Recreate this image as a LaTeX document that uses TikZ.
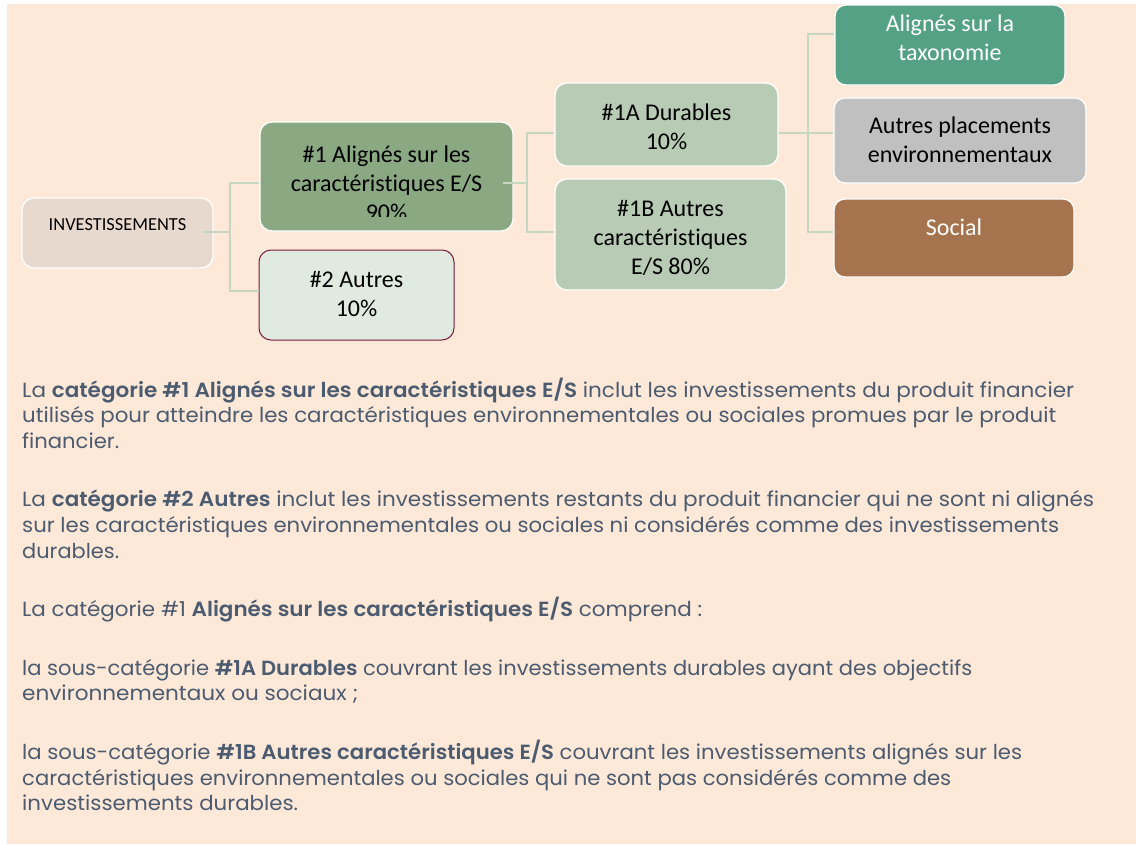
\documentclass[tikz,border=0pt]{standalone}
\usepackage{fontspec}
\usepackage{graphicx}
\setmainfont{Poppins}[BoldFont={Poppins SemiBold}]
\newfontfamily\calib{Carlito}[Ligatures=NoCommon]
\definecolor{peach}{HTML}{FEE8D8}
\definecolor{invc}{HTML}{E7D9CD}
\definecolor{onec}{HTML}{8AA882}
\definecolor{twoc}{HTML}{E1EAE1}
\definecolor{twob}{HTML}{7A1B3B}
\definecolor{subc}{HTML}{B8CBB4}
\definecolor{taxc}{HTML}{54A185}
\definecolor{apc}{HTML}{C0C0C0}
\definecolor{socc}{HTML}{A5734E}
\definecolor{connc}{HTML}{C6D7C1}
\definecolor{txt}{HTML}{4B5B70}
\tikzset{
  box/.style={draw=white, line width=1.3pt, rounded corners=12pt, inner sep=0pt},
  conn/.style={draw=connc, line width=1.3pt},
  lbl/.style={anchor=base, inner sep=0pt, font=\calib\fontsize{24}{29}\selectfont},
  body/.style={anchor=base west, inner sep=0pt, text=txt, font=\fontsize{20.5}{25}\selectfont}
}
\begin{document}
\begin{tikzpicture}[x=1pt,y=-1pt]
\useasboundingbox (0,0) rectangle (1136,844);
\fill[white] (0,0) rectangle (1136,844);
\fill[peach] (7,4) rectangle (1136,844);

% boxes
\node[box, fill=invc, minimum width=191pt, minimum height=70pt] (inv) at (117.5,233) {};
\node[box, fill=onec, minimum width=253pt, minimum height=109pt] (n1) at (386.5,176.5) {};
\node[box, fill=twoc, draw=twob, line width=1pt, minimum width=195pt, minimum height=90pt] (n2) at (356.5,295) {};
\node[box, fill=subc, minimum width=223pt, minimum height=83pt] (a1) at (666.5,124.5) {};
\node[box, fill=subc, minimum width=231pt, minimum height=111pt] (b1) at (670.5,234.5) {};
\node[box, fill=taxc, rounded corners=11pt, minimum width=230pt, minimum height=80pt] (tax) at (950,45) {};
\node[box, fill=apc, rounded corners=11pt, minimum width=252pt, minimum height=85pt] (ap) at (960,140.5) {};
\node[box, fill=socc, rounded corners=11pt, minimum width=240pt, minimum height=78pt] (soc) at (954,238) {};

% junctions
\coordinate (j1) at (230,232);
\coordinate (j2) at (527,183);
\coordinate (j3) at (808,133);

% connectors
\draw[conn, shorten <=-11pt] (inv.east |- j1) -- (j1);
\draw[conn] (n1.west |- j2) -| (j1) |- (n2.west |- 0,291);
\draw[conn, shorten <=-11pt] (n1.east |- j2) -- (j2);
\draw[conn] (a1.west |- j3) -| (j2) |- (b1.west |- 0,232);
\draw[conn] (a1.east |- j3) -- (j3) -- (ap.west |- j3);
\draw[conn] (tax.west |- 0,34) -| (j3) |- (soc.west |- 0,232);

% box texts
\node[lbl, font=\calib\fontsize{18.4}{22}\selectfont] (tinv) at (117.5,230) {INVESTISSEMENTS};
\node[lbl] (t1a) at (386.5,162) {\#1 Alignés sur les};
\node[lbl] (t1b) at (386.5,191) {caractéristiques E/S};
\begin{scope}
\clip (260,122) rectangle (513,216.7);
\node[lbl] (t1c) at (386.5,220) {90\%};
\end{scope}
\node[lbl] (t2a) at (356.5,287) {\#2 Autres};
\node[lbl] (t2b) at (356.5,316) {10\%};
\node[lbl] (ta1) at (666.5,120) {\#1A Durables};
\node[lbl] (ta2) at (666.5,149) {10\%};
\node[lbl] (tb1) at (670.5,216) {\#1B Autres};
\node[lbl] (tb2) at (670.5,245) {caractéristiques};
\node[lbl] (tb3) at (670.5,274) {E/S 80\%};
\node[lbl, text=white] (tt1) at (950,31.5) {Alignés sur la};
\node[lbl, text=white] (tt2) at (950,60.5) {taxonomie};
\node[lbl] (tp1) at (960,133.5) {Autres placements};
\node[lbl] (tp2) at (960,162.5) {environnementaux};
\node[lbl, text=white] (ts1) at (954,235) {Social};

% body text
\node[body] (p1a) at (22,397.0) {\resizebox{1052pt}{\height}{La \textbf{catégorie \#1 Alignés sur les caractéristiques E/S} inclut les investissements du produit financier}};
\node[body] (p1b) at (22,422.6) {\resizebox{1034pt}{\height}{utilisés pour atteindre les caractéristiques environnementales ou sociales promues par le produit}};
\node[body] (p1c) at (22,448.2) {\resizebox{97pt}{\height}{financier.}};
\node[body] (p2a) at (22,506.8) {\resizebox{1072pt}{\height}{La \textbf{catégorie \#2 Autres} inclut les investissements restants du produit financier qui ne sont ni alignés}};
\node[body] (p2b) at (22,532.4) {\resizebox{1037pt}{\height}{sur les caractéristiques environnementales ou sociales ni considérés comme des investissements}};
\node[body] (p2c) at (22,558.0) {\resizebox{97pt}{\height}{durables.}};
\node[body] (p3a) at (22,616.6) {\resizebox{680pt}{\height}{La catégorie \#1 \textbf{Alignés sur les caractéristiques E/S} comprend :}};
\node[body] (p4a) at (22,675.2) {\resizebox{950pt}{\height}{la sous-catégorie \textbf{\#1A Durables} couvrant les investissements durables ayant des objectifs}};
\node[body] (p4b) at (22,700.8) {\resizebox{336pt}{\height}{environnementaux ou sociaux ;}};
\node[body] (p5a) at (22,759.4) {\resizebox{1000pt}{\height}{la sous-catégorie \textbf{\#1B Autres caractéristiques E/S} couvrant les investissements alignés sur les}};
\node[body] (p5b) at (22,785.0) {\resizebox{929pt}{\height}{caractéristiques environnementales ou sociales qui ne sont pas considérés comme des}};
\node[body] (p5c) at (22,810.6) {\resizebox{276pt}{\height}{investissements durables.}};
\end{tikzpicture}
\end{document}
